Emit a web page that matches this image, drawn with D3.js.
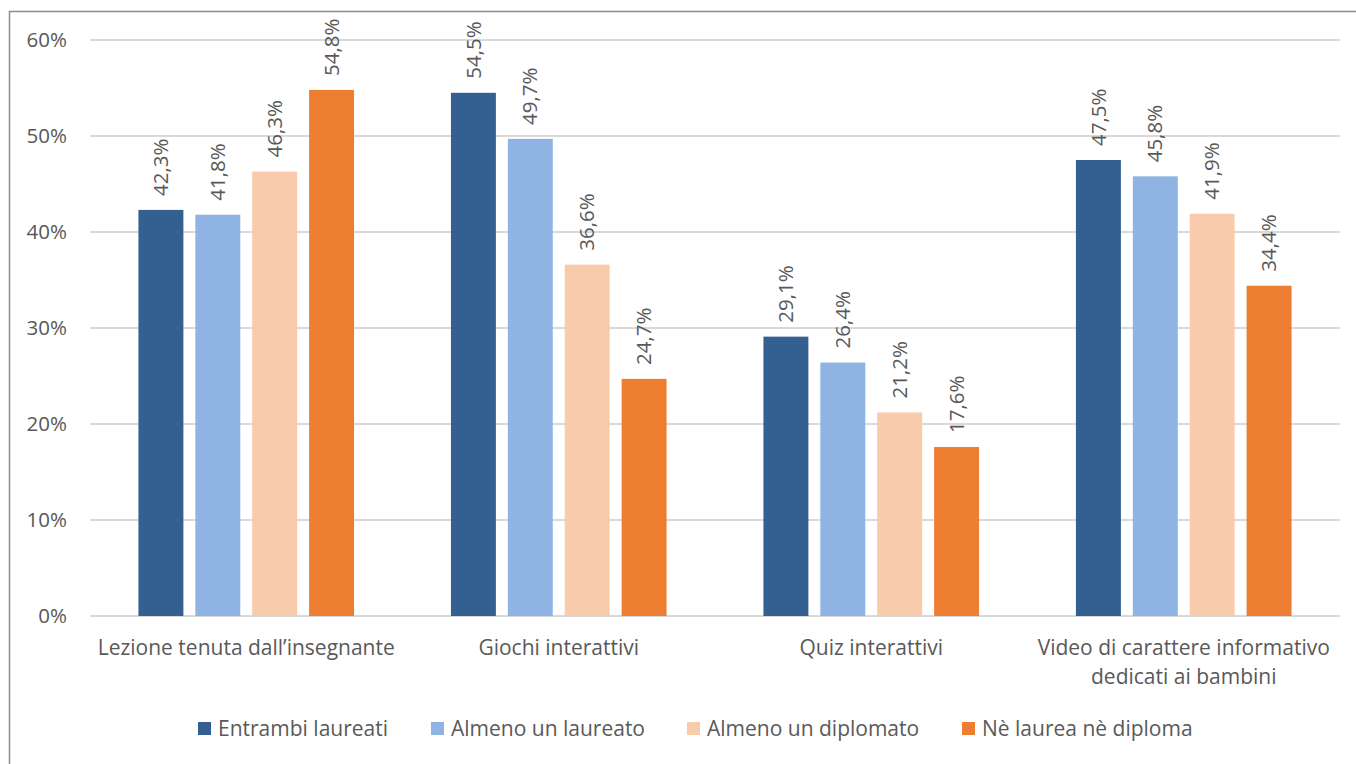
<!DOCTYPE html>
<html>
<head>
<meta charset="utf-8">
<script src="https://cdn.jsdelivr.net/npm/d3@7"></script>
<style>
  body { margin: 0; background: #fff; }
  text { font-family: "Open Sans", sans-serif; fill: #595959; }
</style>
</head>
<body>
<svg width="1356" height="764"></svg>
<script>
var categories = [["Lezione tenuta dall\u2019insegnante"], ["Giochi interattivi"], ["Quiz interattivi"], ["Video di carattere informativo", "dedicati ai bambini"]];
var seriesNames = ["Entrambi laureati", "Almeno un laureato", "Almeno un diplomato", "N\u00e8 laurea n\u00e8 diploma"];
var entrambi = [42.3, 54.5, 29.1, 47.5];
var almenoLaureato = [41.8, 49.7, 26.4, 45.8];
var almenoDiplomato = [46.3, 36.6, 21.2, 41.9];
var nessuno = [54.8, 24.7, 17.6, 34.4];
var yTicks = [0, 10, 20, 30, 40, 50, 60];
var colors = ["#335f91", "#8fb4e3", "#f8cbad", "#ed7d31"];

var series = [entrambi, almenoLaureato, almenoDiplomato, nessuno];

var svg = d3.select("svg");

// chart frame (only top and left edges visible in the picture)
svg.append("rect")
  .attr("x", 9.5).attr("y", 11.5)
  .attr("width", 1400).attr("height", 800)
  .attr("fill", "none")
  .attr("stroke", "#8c8c8c")
  .attr("stroke-width", 1.5);

var x0 = d3.scaleBand()
  .domain(d3.range(categories.length))
  .range([90, 1340])
  .paddingInner(0)
  .paddingOuter(0);

var x1 = d3.scaleBand()
  .domain(d3.range(seriesNames.length))
  .range([x0.bandwidth() * 0.155, x0.bandwidth() * 0.845])
  .paddingInner(0.21);

var y = d3.scaleLinear().domain([0, 60]).range([616, 40]);

// gridlines
svg.append("g").selectAll("line")
  .data(yTicks)
  .enter().append("line")
  .attr("x1", 90).attr("x2", 1340)
  .attr("y1", function(d) { return y(d); })
  .attr("y2", function(d) { return y(d); })
  .attr("stroke", "#d9d9d9")
  .attr("stroke-width", 2);

// y labels
svg.append("g").selectAll("text")
  .data(yTicks)
  .enter().append("text")
  .attr("x", 67)
  .attr("y", function(d) { return y(d); })
  .attr("dy", "0.35em")
  .attr("text-anchor", "end")
  .attr("font-size", 20.5)
  .text(function(d) { return d + "%"; });

var groups = svg.append("g").selectAll("g")
  .data(categories)
  .enter().append("g")
  .attr("transform", function(d, i) { return "translate(" + x0(i) + ",0)"; });

groups.selectAll("rect")
  .data(function(d, i) { return series.map(function(s, j) { return { s: j, v: s[i] }; }); })
  .enter().append("rect")
  .attr("x", function(d) { return x1(d.s); })
  .attr("width", x1.bandwidth())
  .attr("y", function(d) { return y(d.v); })
  .attr("height", function(d) { return y(0) - y(d.v); })
  .attr("fill", function(d) { return colors[d.s]; });

groups.selectAll("text.val")
  .data(function(d, i) { return series.map(function(s, j) { return { s: j, v: s[i] }; }); })
  .enter().append("text")
  .attr("class", "val")
  .attr("transform", function(d) {
    return "translate(" + (x1(d.s) + x1.bandwidth() / 2) + "," + (y(d.v) - 14) + ") rotate(-90)";
  })
  .attr("dy", "0.35em")
  .attr("font-size", 20.5)
  .text(function(d) { return d.v.toFixed(1).replace(".", ",") + "%"; });

// category labels
groups.each(function(lines, i) {
  var t = d3.select(this).append("text")
    .attr("x", x0.bandwidth() / 2)
    .attr("y", 655)
    .attr("text-anchor", "middle")
    .attr("font-size", 21);
  lines.forEach(function(l, k) {
    t.append("tspan").attr("x", x0.bandwidth() / 2).attr("dy", k === 0 ? 0 : 29).text(l);
  });
});

// legend
var legendX = [198, 431, 687, 962];
var legend = svg.append("g").selectAll("g")
  .data(seriesNames)
  .enter().append("g")
  .attr("transform", function(d, i) { return "translate(" + legendX[i] + ",722)"; });

legend.append("rect")
  .attr("width", 13).attr("height", 13)
  .attr("fill", function(d, i) { return colors[i]; });

legend.append("text")
  .attr("x", 20).attr("y", 7)
  .attr("dy", "0.35em")
  .attr("font-size", 21)
  .text(function(d) { return d; });
</script>
</body>
</html>
